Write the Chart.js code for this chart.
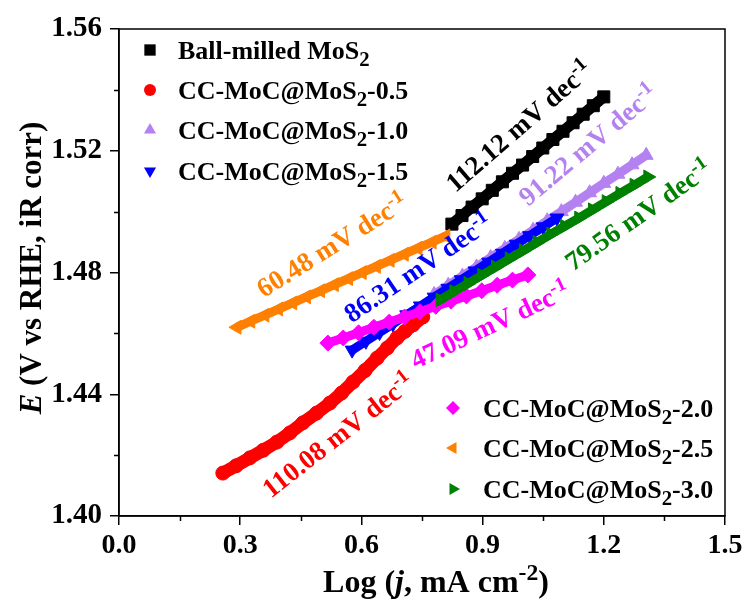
<!DOCTYPE html>
<html lang="en">
<head>
    <meta charset="UTF-8">
    <title>Tafel plots - OER</title>
    <script src="https://cdn.jsdelivr.net/npm/chart.js"></script>
    <style>
        html, body { margin: 0; padding: 0; background: #fff; }
        #wrap { width: 748px; height: 602px; }
    </style>
</head>
<body>
<div id="wrap"><canvas id="chart" width="748" height="602"></canvas></div>
<script>
    // log(j / mA cm-2) and E (V vs RHE) for every sample
    const ballMilledX = [0.824, 0.849, 0.874, 0.899, 0.924, 0.949, 0.974, 0.999, 1.024, 1.049, 1.074, 1.099, 1.124, 1.149, 1.174, 1.200];
    const ballMilledY = [1.4959, 1.4987, 1.5015, 1.5042, 1.5070, 1.5098, 1.5126, 1.5153, 1.5181, 1.5209, 1.5237, 1.5264, 1.5292, 1.5320, 1.5348, 1.5377];

    const cc05X = [0.257, 0.290, 0.324, 0.357, 0.391, 0.423, 0.455, 0.489, 0.522, 0.551, 0.579, 0.609, 0.639, 0.664, 0.688, 0.708, 0.728, 0.752];
    const cc05Y = [1.4141, 1.4165, 1.4191, 1.4216, 1.4243, 1.4273, 1.4306, 1.4338, 1.4371, 1.4404, 1.4440, 1.4478, 1.4519, 1.4552, 1.4585, 1.4607, 1.4628, 1.4654];

    const cc10X = [0.780, 0.815, 0.850, 0.885, 0.920, 0.955, 0.990, 1.025, 1.060, 1.095, 1.130, 1.165, 1.200, 1.235, 1.270, 1.305];
    const cc10Y = [1.4728, 1.4758, 1.4788, 1.4818, 1.4849, 1.4879, 1.4909, 1.4939, 1.4970, 1.5000, 1.5031, 1.5062, 1.5093, 1.5123, 1.5154, 1.5185];

    const cc15X = [0.577, 0.611, 0.645, 0.678, 0.712, 0.746, 0.780, 0.814, 0.847, 0.881, 0.915, 0.949, 0.983, 1.016, 1.050, 1.084];
    const cc15Y = [1.4545, 1.4574, 1.4603, 1.4631, 1.4661, 1.4690, 1.4719, 1.4748, 1.4776, 1.4805, 1.4834, 1.4863, 1.4893, 1.4921, 1.4950, 1.4979];

    const cc20X = [0.517, 0.555, 0.593, 0.631, 0.669, 0.707, 0.745, 0.784, 0.822, 0.860, 0.898, 0.936, 0.974, 1.012];
    const cc20Y = [1.4568, 1.4585, 1.4602, 1.4620, 1.4637, 1.4654, 1.4671, 1.4689, 1.4706, 1.4723, 1.4740, 1.4758, 1.4775, 1.4792];

    const cc25X = [0.292, 0.326, 0.361, 0.395, 0.430, 0.464, 0.499, 0.533, 0.568, 0.602, 0.637, 0.671, 0.706, 0.740, 0.775, 0.809];
    const cc25Y = [1.4620, 1.4640, 1.4660, 1.4680, 1.4700, 1.4720, 1.4740, 1.4760, 1.4780, 1.4800, 1.4820, 1.4840, 1.4860, 1.4880, 1.4900, 1.4920];

    const cc30X = [0.795, 0.829, 0.864, 0.898, 0.932, 0.966, 1.001, 1.035, 1.069, 1.103, 1.138, 1.172, 1.206, 1.240, 1.275, 1.309];
    const cc30Y = [1.4710, 1.4737, 1.4764, 1.4791, 1.4818, 1.4845, 1.4872, 1.4899, 1.4926, 1.4952, 1.4979, 1.5006, 1.5033, 1.5060, 1.5087, 1.5114];

    // axis ticks
    const xTicks = [0.0, 0.3, 0.6, 0.9, 1.2, 1.5];
    const xMinorTicks = [0.15, 0.45, 0.75, 1.05, 1.35];
    const yTicks = [1.40, 1.44, 1.48, 1.52, 1.56];
    const yMinorTicks = [1.42, 1.46, 1.50, 1.54];

    // series names (_{..} = subscript, ^{..} = superscript, *..* = italic)
    const seriesNames = ['Ball-milled MoS_{2}', 'CC-MoC@MoS_{2}-0.5', 'CC-MoC@MoS_{2}-1.0', 'CC-MoC@MoS_{2}-1.5',
                         'CC-MoC@MoS_{2}-2.0', 'CC-MoC@MoS_{2}-2.5', 'CC-MoC@MoS_{2}-3.0'];
    const seriesColors = ['#000000', '#ff0000', '#b482f0', '#0000ff', '#ff00ff', '#ff8000', '#008000'];
    const seriesMarkers = ['rect', 'circle', 'triangle', 'triangle', 'rectRot', 'triangle', 'triangle'];
    const markerRotation = [0, 0, 0, 180, 0, -90, 90];

    // Tafel slope labels
    const slopeTexts = ['112.12 mV dec^{-1}', '110.08 mV dec^{-1}', '91.22 mV dec^{-1}', '86.31 mV dec^{-1}',
                        '47.09 mV dec^{-1}', '60.48 mV dec^{-1}', '79.56 mV dec^{-1}'];
    const slopeX = [0.99, 0.542, 1.161, 0.740, 0.918, 0.527, 1.285];
    const slopeY = [1.5281, 1.4266, 1.5219, 1.4815, 1.4628, 1.4890, 1.4989];
    const slopeAngle = [-41, -38, -40, -34, -25, -32, -35];

    const SERIF = '"Liberation Serif", "Times New Roman", serif';

    const xs = [ballMilledX, cc05X, cc10X, cc15X, cc20X, cc25X, cc30X];
    const ys = [ballMilledY, cc05Y, cc10Y, cc15Y, cc20Y, cc25Y, cc30Y];
    const pointSize = [8.5, 7, 8, 8, 8, 8, 8];
    const bandWidth = [11, 13, 9, 9, 9, 9, 9];

    const datasets = seriesNames.map((name, i) => ({
        label: name,
        data: xs[i].map((x, k) => ({ x: x, y: ys[i][k] })),
        showLine: true,
        borderColor: seriesColors[i],
        backgroundColor: seriesColors[i],
        borderWidth: bandWidth[i],
        borderCapStyle: i === 1 ? 'round' : 'butt',
        borderJoinStyle: 'round',
        pointStyle: seriesMarkers[i],
        rotation: markerRotation[i],
        pointRadius: pointSize[i],
        pointBorderWidth: 1,
        pointBorderColor: seriesColors[i],
        pointBackgroundColor: seriesColors[i],
        order: seriesNames.length - i
    }));

    // split "MoS_{2}" style strings into runs
    function parseRich(str) {
        const parts = [];
        str.split(/(_\{[^}]*\}|\^\{[^}]*\}|\*[^*]*\*)/).forEach(tok => {
            if (!tok) return;
            if (tok.startsWith('_{')) parts.push({ t: tok.slice(2, -1), sub: true });
            else if (tok.startsWith('^{')) parts.push({ t: tok.slice(2, -1), sup: true });
            else if (tok.startsWith('*')) parts.push({ t: tok.slice(1, -1), it: true });
            else parts.push({ t: tok });
        });
        return parts;
    }

    function runFont(p, size) {
        const s = p.sub ? size * 0.8 : (p.sup ? size * 0.74 : size);
        return (p.it ? 'italic ' : '') + 'bold ' + s + 'px ' + SERIF;
    }

    function richWidth(ctx, parts, size) {
        let w = 0;
        parts.forEach(p => { ctx.font = runFont(p, size); w += ctx.measureText(p.t).width; });
        return w;
    }

    // x = left edge (or centre), y = baseline
    function drawRich(ctx, str, x, y, size, color, align) {
        const parts = parseRich(str);
        if (align === 'center') x -= richWidth(ctx, parts, size) / 2;
        ctx.fillStyle = color;
        ctx.textAlign = 'left';
        ctx.textBaseline = 'alphabetic';
        parts.forEach(p => {
            ctx.font = runFont(p, size);
            const dy = p.sub ? size * 0.27 : (p.sup ? -size * 0.36 : 0);
            ctx.fillText(p.t, x, y + dy);
            x += ctx.measureText(p.t).width;
        });
    }

    function drawMarker(ctx, style, rot, x, y, r, color) {
        ctx.save();
        ctx.translate(x, y);
        ctx.rotate(rot * Math.PI / 180);
        ctx.fillStyle = color;
        ctx.beginPath();
        if (style === 'circle') {
            ctx.arc(0, 0, r, 0, Math.PI * 2);
        } else if (style === 'rect') {
            const s = r * Math.SQRT1_2;
            ctx.rect(-s, -s, 2 * s, 2 * s);
        } else if (style === 'rectRot') {
            ctx.moveTo(0, -r); ctx.lineTo(r, 0); ctx.lineTo(0, r); ctx.lineTo(-r, 0);
        } else {
            ctx.moveTo(0, -r);
            ctx.lineTo(r * Math.sin(Math.PI / 3), r / 2);
            ctx.lineTo(-r * Math.sin(Math.PI / 3), r / 2);
        }
        ctx.closePath();
        ctx.fill();
        ctx.restore();
    }

    const decorPlugin = {
        id: 'decor',
        afterDraw(chart) {
            const ctx = chart.ctx;
            const area = chart.chartArea;
            const sx = chart.scales.x, sy = chart.scales.y;

            ctx.save();
            // frame
            ctx.strokeStyle = '#000';
            ctx.lineWidth = 1.5;
            ctx.strokeRect(area.left, area.top, area.right - area.left, area.bottom - area.top);

            // minor ticks, outward
            ctx.beginPath();
            xMinorTicks.forEach(v => {
                const px = Math.round(sx.getPixelForValue(v)) + 0.5;
                ctx.moveTo(px, area.bottom); ctx.lineTo(px, area.bottom + 5);
            });
            yMinorTicks.forEach(v => {
                const py = Math.round(sy.getPixelForValue(v)) + 0.5;
                ctx.moveTo(area.left, py); ctx.lineTo(area.left - 5, py);
            });
            ctx.stroke();

            // slope labels
            slopeTexts.forEach((txt, i) => {
                ctx.save();
                ctx.translate(sx.getPixelForValue(slopeX[i]), sy.getPixelForValue(slopeY[i]));
                ctx.rotate(slopeAngle[i] * Math.PI / 180);
                drawRich(ctx, txt, 0, 9, 27, seriesColors[i], 'center');
                ctx.restore();
            });

            // legends: first four top-left, last three bottom-right
            const rowsA = [50, 90, 130, 171];
            const rowsB = [408, 448, 489];
            seriesNames.forEach((name, i) => {
                const top = i < 4;
                const mx = top ? 150 : 453;
                const tx = top ? 178 : 483;
                const y = top ? rowsA[i] : rowsB[i - 4];
                const r = seriesMarkers[i] === 'circle' ? 6 : (seriesMarkers[i] === 'rect' ? 8 : 7);
                drawMarker(ctx, seriesMarkers[i], markerRotation[i], mx, y, r, seriesColors[i]);
                drawRich(ctx, name, tx, y + 8.5, 26, '#000');
            });

            // axis titles
            drawRich(ctx, 'Log (*j*, mA cm^{-2})', (area.left + area.right) / 2 + 14, 592, 32, '#000', 'center');
            ctx.save();
            ctx.translate(41, 268);
            ctx.rotate(-Math.PI / 2);
            drawRich(ctx, '*E* (V vs RHE, iR corr)', 0, 0, 31, '#000', 'center');
            ctx.restore();

            ctx.restore();
        }
    };

    new Chart(document.getElementById('chart').getContext('2d'), {
        type: 'scatter',
        data: { datasets: datasets },
        plugins: [decorPlugin],
        options: {
            responsive: false,
            animation: false,
            layout: { padding: { top: 29, right: 23, left: 0, bottom: 0 } },
            plugins: { legend: { display: false }, tooltip: { enabled: false } },
            scales: {
                x: {
                    type: 'linear',
                    min: 0, max: 1.5,
                    afterFit: s => { s.height = 86; },
                    afterBuildTicks: s => { s.ticks = xTicks.map(v => ({ value: v })); },
                    ticks: { callback: v => v.toFixed(1), font: { family: SERIF, size: 28, weight: 'bold' }, color: '#000', padding: 4, maxRotation: 0, autoSkip: false },
                    grid: { drawOnChartArea: false, drawTicks: true, tickLength: 9, color: '#000', lineWidth: 1.5 },
                    border: { display: true, color: '#000', width: 1.5 }
                },
                y: {
                    type: 'linear',
                    min: 1.40, max: 1.56,
                    afterFit: s => { s.width = 119; },
                    afterBuildTicks: s => { s.ticks = yTicks.map(v => ({ value: v })); },
                    ticks: { callback: v => v.toFixed(2), font: { family: SERIF, size: 29, weight: 'bold' }, color: '#000', padding: 8, autoSkip: false },
                    grid: { drawOnChartArea: false, drawTicks: true, tickLength: 9, color: '#000', lineWidth: 1.5 },
                    border: { display: true, color: '#000', width: 1.5 }
                }
            }
        }
    });
</script>
</body>
</html>
